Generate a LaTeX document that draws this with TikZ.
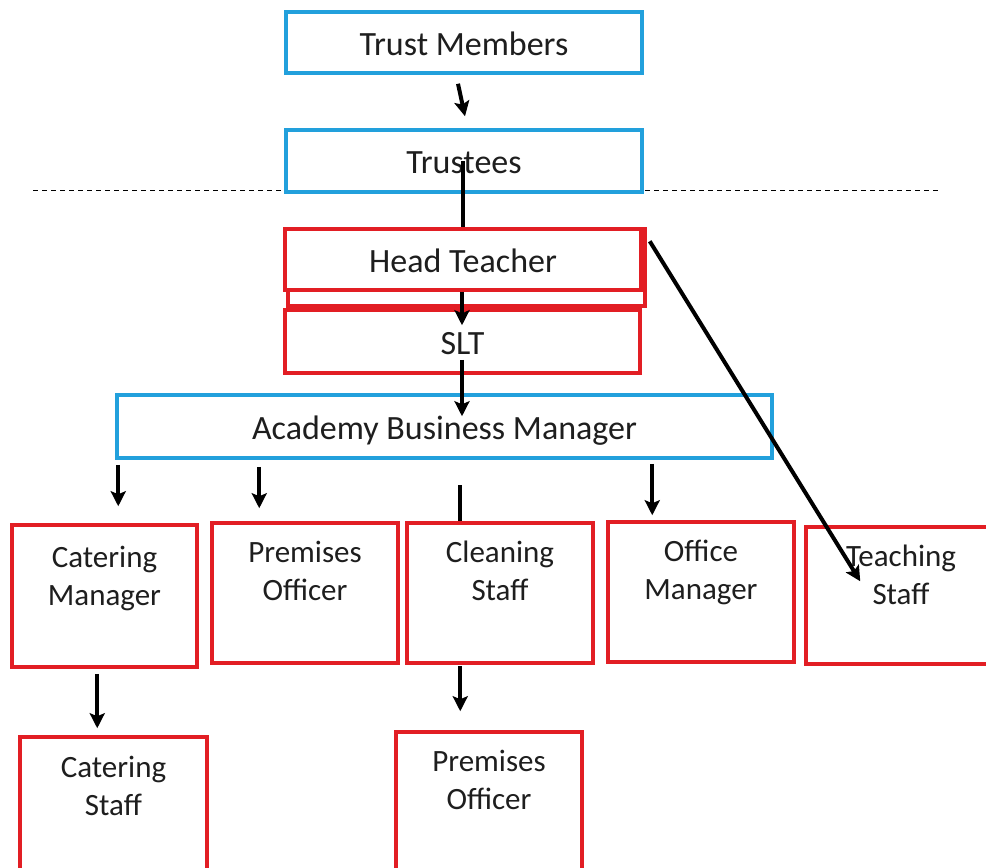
\documentclass[tikz,border=0pt]{standalone}
\usepackage{fontspec}
\setmainfont{Carlito}
\usetikzlibrary{arrows.meta,calc}
\definecolor{bblue}{RGB}{34,160,220}
\definecolor{rred}{RGB}{226,30,36}
\definecolor{txtc}{RGB}{30,30,30}
\begin{document}
\begin{tikzpicture}[x=1pt,y=-1pt,
 box/.style={draw, line width=3.5pt, fill=white, inner sep=0pt, text=txtc, text height=25pt, text depth=0pt, font=\fontsize{34}{38}\selectfont},
 bluebox/.style={box, draw=bblue},
 redbox/.style={box, draw=rred},
 lbl/.style={align=center, text=txtc, font=\fontsize{31}{38}\selectfont, inner sep=0pt},
 arr/.style={line width=4pt, -{Stealth[length=15pt,width=15pt,inset=3pt]}},
 ln/.style={line width=4pt}]
\useasboundingbox (0,0) rectangle (986,868);
\clip (0,0) rectangle (986,868);
% dashed separator
\coordinate (dl) at (33,190);
\coordinate (dr) at (940,190);
\draw[line width=1pt, dash pattern=on 5pt off 4pt] (dl) -- (dr);
% top boxes
\node[bluebox, minimum width=356pt, minimum height=61pt] (tm) at (464,42.5) {Trust Members};
\node[bluebox, minimum width=356pt, minimum height=62pt] (tr) at (464,161) {Trustees};
\node[redbox, minimum width=357pt, minimum height=77pt] (htb) at (466.5,267.5) {};
\node[redbox, minimum width=356pt, minimum height=61pt] (ht) at (463,259.5) {Head Teacher};
\node[redbox, minimum width=355pt, minimum height=63pt] (slt) at (462.5,341.5) {SLT};
\node[bluebox, minimum width=655pt, minimum height=63pt] (abm) at (444.5,426.5) {Academy Business Manager};
% lower boxes
\node[redbox, minimum width=185pt, minimum height=142pt] (cm) at (104.5,596) {};
\node[redbox, minimum width=186pt, minimum height=140pt] (po) at (305,593) {};
\node[redbox, minimum width=186pt, minimum height=140pt] (cs) at (500,593) {};
\node[redbox, minimum width=186pt, minimum height=140pt] (om) at (701,592) {};
\node[redbox, minimum width=190pt, minimum height=137pt] (ts) at (901,595.5) {};
\node[redbox, minimum width=187pt, minimum height=153pt] (cst) at (113.5,813.5) {};
\node[redbox, minimum width=186pt, minimum height=158pt] (po2) at (489,811) {};
% labels
\node[lbl] (cmt) at ($(cm.north)+(0,55)$) {Catering\\Manager};
\node[lbl] (pot) at ($(po.north)+(0,50)$) {Premises\\Officer};
\node[lbl] (cst2) at ($(cs.north)+(0,50)$) {Cleaning\\Staff};
\node[lbl] (omt) at ($(om.north)+(0,52)$) {Office\\Manager};
\node[lbl] (tst) at ($(ts.north)+(0,50)$) {Teaching\\Staff};
\node[lbl] (cstt) at ($(cst.north)+(0,50.5)$) {Catering\\Staff};
\node[lbl] (po2t) at ($(po2.north)+(0,50)$) {Premises\\Officer};
% connectors
\draw[arr] ($(tm.south)+(-6,9)$) -- ($(tr.north)+(1,-12)$);
\draw[ln] ($(tr.center)+(-1,0)$) -- ($(ht.north)+(0,0)$);
\draw[arr] ($(ht.south)+(-1,0)$) -- ($(slt.north)+(-0.5,17)$);
\draw[arr] ($(slt.south)+(-0.5,-15)$) -- ($(abm.north)+(17.5,23)$);
\draw[arr] ($(ht.north east)+(7,14)$) -- ($(ts.north west)+(56,56)$);
\draw[arr] ($(abm.south west)+(3,5)$) -- ($(cm.north west)+(108,-17)$);
\draw[arr] ($(abm.south west)+(144,7)$) -- ($(po.north west)+(49,-13)$);
\draw[ln] ($(cs.north west)+(55,-36)$) -- ($(cs.north west)+(55,0)$);
\draw[arr] ($(abm.south west)+(537,4)$) -- ($(om.north west)+(46,-5)$);
\draw[arr] ($(cm.south west)+(87,5)$) -- ($(cst.north west)+(79,-7)$);
\draw[arr] ($(cs.south west)+(55,1)$) -- ($(po2.north west)+(66,-19)$);
\end{tikzpicture}
\end{document}
